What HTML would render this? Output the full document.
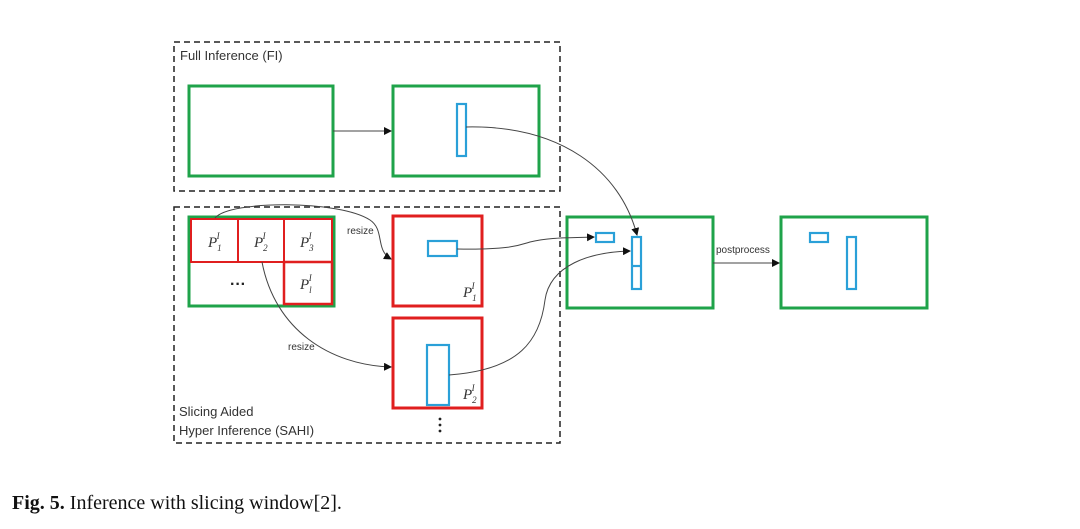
<!DOCTYPE html>
<html><head><style>
body{margin:0;background:#fff;}
svg{display:block;}
</style></head><body>
<svg width="1080" height="529" viewBox="0 0 1080 529" xmlns="http://www.w3.org/2000/svg" font-family="Liberation Sans, sans-serif">
<defs><marker id="a" markerWidth="8" markerHeight="8" refX="7" refY="4" orient="auto" markerUnits="userSpaceOnUse"><path d="M0,0 L8,4 L0,8 z" fill="#111"/></marker></defs>
<g fill="none" stroke="#222" stroke-width="1.5" stroke-dasharray="6,4">
<rect x="174" y="42" width="386" height="149"/>
<rect x="174" y="207" width="386" height="236"/>
</g>
<text x="180" y="60" font-size="13" fill="#333">Full Inference (FI)</text>
<text x="179" y="416" font-size="13" fill="#333">Slicing Aided</text>
<text x="179" y="435" font-size="13" fill="#333">Hyper Inference (SAHI)</text>
<g fill="none" stroke="#1fa34a" stroke-width="3">
<rect x="189" y="86" width="144" height="90"/>
<rect x="393" y="86" width="146" height="90"/>
<rect x="189" y="217" width="145" height="89"/>
<rect x="567" y="217" width="146" height="91"/>
<rect x="781" y="217" width="146" height="91"/>
</g>
<g fill="none" stroke="#e01f1f" stroke-width="2">
<rect x="191" y="219" width="47" height="43"/>
<rect x="238" y="219" width="46" height="43"/>
<rect x="284" y="219" width="48" height="43"/>
<rect x="284" y="262" width="48" height="42" stroke-width="2.5"/>
</g>
<g fill="none" stroke="#e01f1f" stroke-width="3">
<rect x="393" y="216" width="89" height="90"/>
<rect x="393" y="318" width="89" height="90"/>
</g>
<g fill="none" stroke="#2aa0d8" stroke-width="2.2">
<rect x="457" y="104" width="9" height="52"/>
<rect x="428" y="241" width="29" height="15"/>
<rect x="427" y="345" width="22" height="60"/>
<rect x="596" y="233" width="18" height="9"/>
<rect x="632" y="237" width="9" height="52"/>
<line x1="632" y1="266" x2="641" y2="266"/>
<rect x="810" y="233" width="18" height="9"/>
<rect x="847" y="237" width="9" height="52"/>
</g>
<g font-family="Liberation Serif, serif" font-style="italic" font-size="15" fill="#333">
<text x="208" y="247">P<tspan font-size="9" dy="4">1</tspan><tspan font-size="9" dx="-5" dy="-12">I</tspan></text>
<text x="254" y="247">P<tspan font-size="9" dy="4">2</tspan><tspan font-size="9" dx="-5" dy="-12">I</tspan></text>
<text x="300" y="247">P<tspan font-size="9" dy="4">3</tspan><tspan font-size="9" dx="-5" dy="-12">I</tspan></text>
<text x="300" y="289">P<tspan font-size="9" dy="4">l</tspan><tspan font-size="9" dx="-3" dy="-12">I</tspan></text>
<text x="463" y="297">P<tspan font-size="9" dy="4">1</tspan><tspan font-size="9" dx="-5" dy="-12">I</tspan></text>
<text x="463" y="399">P<tspan font-size="9" dy="4">2</tspan><tspan font-size="9" dx="-5" dy="-12">I</tspan></text>
</g>
<text x="230" y="289" font-size="16" font-weight="bold" fill="#222">···</text>
<g fill="#222"><circle cx="440" cy="419" r="1.4"/><circle cx="440" cy="425" r="1.4"/><circle cx="440" cy="431" r="1.4"/></g>
<g fill="none" stroke="#444" stroke-width="1">
<path d="M333,131 L391,131" marker-end="url(#a)"/>
<path d="M466,127 C560,125 620,170 637,235" marker-end="url(#a)"/>
<path d="M215,218 C230,200 340,200 370,220 C385,230 375,250 391,259" marker-end="url(#a)"/>
<path d="M262,262 C275,330 330,365 391,367" marker-end="url(#a)"/>
<path d="M457,249 C510,250 520,245 530,242 C550,237 570,238 594,237" marker-end="url(#a)"/>
<path d="M449,375 C520,370 540,340 545,300 C550,265 590,252 630,251" marker-end="url(#a)"/>
<path d="M713,263 L779,263" marker-end="url(#a)"/>
</g>
<text x="347" y="234" font-size="10" fill="#333">resize</text>
<text x="288" y="350" font-size="10" fill="#333">resize</text>
<text x="716" y="253" font-size="10" fill="#333">postprocess</text>
<text x="12" y="509" font-family="Liberation Serif, serif" font-size="20" fill="#111"><tspan font-weight="bold">Fig. 5.</tspan> Inference with slicing window[2].</text>
</svg>
</body></html>
